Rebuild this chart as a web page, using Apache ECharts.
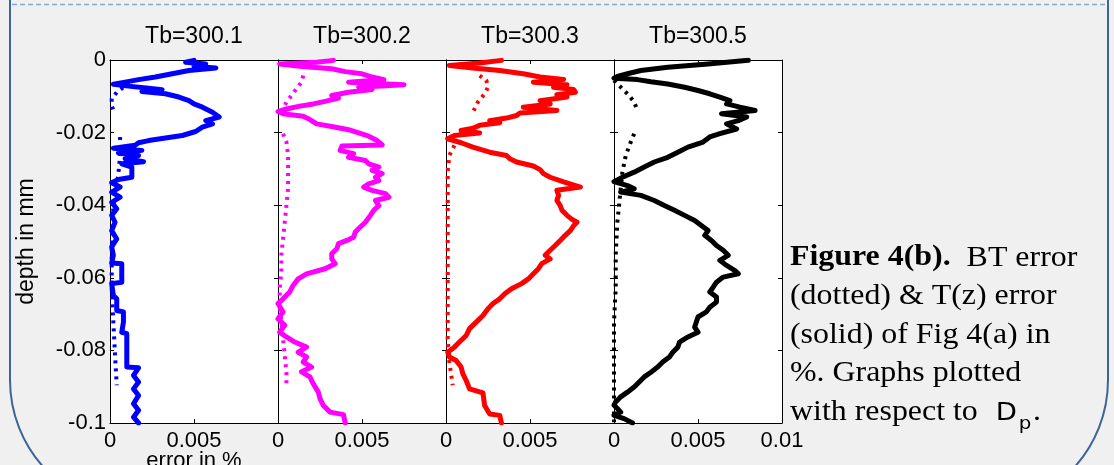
<!DOCTYPE html>
<html>
<head>
<meta charset="utf-8">
<script src="https://cdn.jsdelivr.net/npm/echarts@6/dist/echarts.min.js"></script>
<style>
  html, body { margin: 0; padding: 0; background: #f0f0f0; }
  #chart { width: 1114px; height: 465px; }
</style>
</head>
<body>
<div id="chart"></div>
<script>
// Panel titles (bulk temperature Tb)
const panelTitles = ['Tb=300.1', 'Tb=300.2', 'Tb=300.3', 'Tb=300.5'];
const panelColors = ['#0000ff', '#ff00ff', '#ff0000', '#000000'];

// Axis ranges / ticks
const errorTicks = [0, 0.005, 0.01];
const depthTicks = [0, -0.02, -0.04, -0.06, -0.08, -0.1];

// T(z) error (solid), pairs of [error %, depth mm]
const tzErr3001 = [[0.0050,-0.0001],[0.0045,-0.0006],[0.0057,-0.0011],[0.0050,-0.0017],[0.0063,-0.0022],[0.0047,-0.0029],[0.0037,-0.0038],[0.0027,-0.0047],[0.0017,-0.0054],[0.0009,-0.0061],[0.0002,-0.0067],[0.0011,-0.0072],[0.0023,-0.0078],[0.0031,-0.0082],[0.0019,-0.0087],[0.0033,-0.0093],[0.0041,-0.0102],[0.0047,-0.0112],[0.0050,-0.0121],[0.0055,-0.0130],[0.0061,-0.0144],[0.0065,-0.0157],[0.0057,-0.0167],[0.0061,-0.0176],[0.0055,-0.0185],[0.0051,-0.0197],[0.0043,-0.0208],[0.0033,-0.0215],[0.0023,-0.0222],[0.0017,-0.0228],[0.0015,-0.0235],[0.0002,-0.0243],[0.0019,-0.0249],[0.0005,-0.0256],[0.0017,-0.0263],[0.0009,-0.0272],[0.0020,-0.0280],[0.0007,-0.0286],[0.0013,-0.0295],[0.0013,-0.0323],[0.0005,-0.0329],[0.0001,-0.0338],[0.0006,-0.0350],[0.0001,-0.0364],[0.0006,-0.0378],[0.0001,-0.0392],[0.0004,-0.0410],[0.0001,-0.0428],[0.0003,-0.0447],[0.0001,-0.0470],[0.0004,-0.0493],[0.0001,-0.0515],[0.0002,-0.0538],[0.0001,-0.0559],[0.0007,-0.0561],[0.0007,-0.0612],[0.0001,-0.0616],[0.0002,-0.0649],[0.0004,-0.0658],[0.0004,-0.0690],[0.0008,-0.0694],[0.0008,-0.0722],[0.0007,-0.0750],[0.0010,-0.0754],[0.0010,-0.0846],[0.0017,-0.0848],[0.0014,-0.0869],[0.0017,-0.0887],[0.0014,-0.0906],[0.0017,-0.0924],[0.0014,-0.0947],[0.0017,-0.0965],[0.0014,-0.0984],[0.0017,-0.1000]];
const tzErr3002 = [[0.0033,-0.0001],[0.0023,-0.0006],[0.0001,-0.0011],[0.0013,-0.0017],[0.0032,-0.0024],[0.0040,-0.0032],[0.0050,-0.0038],[0.0056,-0.0047],[0.0063,-0.0054],[0.0042,-0.0061],[0.0075,-0.0068],[0.0048,-0.0075],[0.0056,-0.0081],[0.0042,-0.0089],[0.0032,-0.0098],[0.0036,-0.0105],[0.0028,-0.0114],[0.0021,-0.0121],[0.0013,-0.0127],[0.0005,-0.0135],[0.0000,-0.0142],[0.0003,-0.0148],[0.0015,-0.0155],[0.0019,-0.0164],[0.0023,-0.0176],[0.0032,-0.0183],[0.0042,-0.0192],[0.0048,-0.0201],[0.0054,-0.0210],[0.0059,-0.0222],[0.0062,-0.0234],[0.0038,-0.0237],[0.0037,-0.0249],[0.0045,-0.0258],[0.0042,-0.0268],[0.0052,-0.0277],[0.0054,-0.0286],[0.0060,-0.0295],[0.0056,-0.0304],[0.0062,-0.0313],[0.0058,-0.0323],[0.0060,-0.0332],[0.0054,-0.0341],[0.0051,-0.0350],[0.0056,-0.0359],[0.0064,-0.0368],[0.0066,-0.0378],[0.0058,-0.0387],[0.0060,-0.0401],[0.0057,-0.0414],[0.0055,-0.0428],[0.0052,-0.0447],[0.0049,-0.0460],[0.0046,-0.0474],[0.0045,-0.0488],[0.0041,-0.0497],[0.0036,-0.0506],[0.0035,-0.0520],[0.0032,-0.0534],[0.0032,-0.0548],[0.0034,-0.0561],[0.0028,-0.0575],[0.0017,-0.0589],[0.0012,-0.0603],[0.0009,-0.0621],[0.0007,-0.0639],[0.0003,-0.0658],[0.0000,-0.0671],[0.0003,-0.0694],[0.0000,-0.0713],[0.0004,-0.0731],[0.0001,-0.0750],[0.0005,-0.0763],[0.0010,-0.0777],[0.0017,-0.0791],[0.0012,-0.0805],[0.0017,-0.0818],[0.0015,-0.0832],[0.0020,-0.0846],[0.0014,-0.0859],[0.0019,-0.0873],[0.0021,-0.0892],[0.0024,-0.0915],[0.0025,-0.0933],[0.0027,-0.0952],[0.0031,-0.0970],[0.0039,-0.0977],[0.0040,-0.1000]];
const tzErr3003 = [[0.0033,-0.0001],[0.0020,-0.0008],[0.0002,-0.0015],[0.0016,-0.0022],[0.0032,-0.0029],[0.0046,-0.0038],[0.0056,-0.0047],[0.0070,-0.0054],[0.0052,-0.0061],[0.0072,-0.0068],[0.0064,-0.0075],[0.0076,-0.0081],[0.0077,-0.0089],[0.0066,-0.0096],[0.0072,-0.0102],[0.0056,-0.0112],[0.0062,-0.0121],[0.0046,-0.0130],[0.0066,-0.0139],[0.0044,-0.0146],[0.0042,-0.0153],[0.0036,-0.0160],[0.0026,-0.0167],[0.0032,-0.0173],[0.0020,-0.0180],[0.0016,-0.0188],[0.0009,-0.0194],[0.0020,-0.0201],[0.0005,-0.0208],[0.0001,-0.0217],[0.0009,-0.0228],[0.0016,-0.0240],[0.0026,-0.0254],[0.0036,-0.0263],[0.0038,-0.0272],[0.0042,-0.0281],[0.0052,-0.0292],[0.0056,-0.0302],[0.0058,-0.0313],[0.0062,-0.0323],[0.0070,-0.0336],[0.0080,-0.0350],[0.0066,-0.0359],[0.0067,-0.0373],[0.0066,-0.0387],[0.0068,-0.0401],[0.0069,-0.0414],[0.0072,-0.0428],[0.0075,-0.0439],[0.0078,-0.0447],[0.0076,-0.0456],[0.0074,-0.0470],[0.0071,-0.0483],[0.0068,-0.0497],[0.0065,-0.0511],[0.0062,-0.0524],[0.0059,-0.0538],[0.0062,-0.0548],[0.0057,-0.0561],[0.0055,-0.0575],[0.0052,-0.0589],[0.0049,-0.0603],[0.0045,-0.0616],[0.0039,-0.0630],[0.0035,-0.0644],[0.0032,-0.0658],[0.0028,-0.0671],[0.0025,-0.0685],[0.0022,-0.0704],[0.0018,-0.0722],[0.0014,-0.0740],[0.0012,-0.0759],[0.0008,-0.0777],[0.0005,-0.0791],[0.0001,-0.0805],[0.0002,-0.0818],[0.0006,-0.0828],[0.0009,-0.0846],[0.0010,-0.0864],[0.0012,-0.0883],[0.0014,-0.0906],[0.0022,-0.0917],[0.0023,-0.0952],[0.0026,-0.0975],[0.0032,-0.0979],[0.0033,-0.1000]];
const tzErr3005 = [[0.0080,-0.0001],[0.0056,-0.0011],[0.0032,-0.0020],[0.0016,-0.0029],[0.0008,-0.0038],[0.0002,-0.0045],[0.0000,-0.0050],[0.0014,-0.0054],[0.0022,-0.0060],[0.0032,-0.0066],[0.0042,-0.0075],[0.0050,-0.0084],[0.0057,-0.0093],[0.0063,-0.0102],[0.0069,-0.0112],[0.0067,-0.0121],[0.0075,-0.0130],[0.0084,-0.0139],[0.0064,-0.0148],[0.0079,-0.0157],[0.0074,-0.0167],[0.0067,-0.0176],[0.0073,-0.0190],[0.0063,-0.0203],[0.0057,-0.0212],[0.0053,-0.0226],[0.0044,-0.0240],[0.0038,-0.0254],[0.0032,-0.0268],[0.0024,-0.0281],[0.0018,-0.0295],[0.0012,-0.0309],[0.0005,-0.0323],[0.0000,-0.0335],[0.0008,-0.0346],[0.0012,-0.0355],[0.0004,-0.0364],[0.0016,-0.0373],[0.0024,-0.0387],[0.0030,-0.0401],[0.0036,-0.0414],[0.0042,-0.0428],[0.0048,-0.0442],[0.0052,-0.0456],[0.0056,-0.0470],[0.0054,-0.0483],[0.0058,-0.0497],[0.0061,-0.0511],[0.0065,-0.0524],[0.0068,-0.0538],[0.0063,-0.0552],[0.0067,-0.0566],[0.0072,-0.0580],[0.0074,-0.0589],[0.0065,-0.0598],[0.0061,-0.0612],[0.0059,-0.0626],[0.0057,-0.0639],[0.0061,-0.0653],[0.0061,-0.0667],[0.0057,-0.0681],[0.0055,-0.0694],[0.0050,-0.0708],[0.0049,-0.0722],[0.0048,-0.0736],[0.0050,-0.0750],[0.0044,-0.0763],[0.0039,-0.0777],[0.0038,-0.0791],[0.0035,-0.0805],[0.0033,-0.0818],[0.0029,-0.0832],[0.0026,-0.0846],[0.0022,-0.0860],[0.0018,-0.0873],[0.0015,-0.0887],[0.0012,-0.0901],[0.0008,-0.0915],[0.0004,-0.0928],[0.0001,-0.0942],[0.0000,-0.0951],[0.0002,-0.0960],[0.0004,-0.0970],[0.0000,-0.0979],[0.0006,-0.0988],[0.0011,-0.1000]];

// BT error (dotted), same layout; '-' breaks the curve
const btErr3001 = [[0.0012,-0.0066],[0.0008,-0.0075],[0.0004,-0.0089],[0.0001,-0.0107],[0.0001,-0.0125],[0.0002,-0.0139],['-','-'],[0.0006,-0.0212],[0.0006,-0.0263],[0.0005,-0.0313],[0.0002,-0.0401],[0.0001,-0.0538],[0.0001,-0.0630],[0.0002,-0.0722],[0.0003,-0.0814],[0.0004,-0.0896]];
const btErr3002 = [[0.0015,-0.0043],[0.0014,-0.0061],[0.0011,-0.0079],[0.0008,-0.0098],[0.0005,-0.0116],[0.0003,-0.0135],['-','-'],[0.0003,-0.0203],[0.0005,-0.0226],[0.0006,-0.0263],[0.0006,-0.0309],[0.0006,-0.0355],[0.0005,-0.0401],[0.0004,-0.0447],[0.0003,-0.0493],[0.0002,-0.0538],[0.0002,-0.0584],[0.0001,-0.0630],[0.0001,-0.0676],[0.0002,-0.0722],[0.0003,-0.0768],[0.0004,-0.0814],[0.0005,-0.0860],[0.0005,-0.0897]];
const btErr3003 = [[0.0020,-0.0043],[0.0024,-0.0056],[0.0025,-0.0075],[0.0023,-0.0093],[0.0019,-0.0116],[0.0016,-0.0144],['-','-'],[0.0005,-0.0235],[0.0002,-0.0263],[0.0001,-0.0309],[0.0001,-0.0401],[0.0001,-0.0493],[0.0001,-0.0584],[0.0001,-0.0676],[0.0001,-0.0768],[0.0002,-0.0832],[0.0004,-0.0896]];
const btErr3005 = [[0.0000,-0.0056],[0.0002,-0.0066],[0.0005,-0.0079],[0.0009,-0.0098],[0.0012,-0.0116],[0.0014,-0.0139],['-','-'],[0.0012,-0.0203],[0.0010,-0.0226],[0.0007,-0.0263],[0.0005,-0.0309],[0.0004,-0.0355],[0.0003,-0.0401],[0.0002,-0.0447],[0.0001,-0.0538],[0.0001,-0.0630],[0.0000,-0.0722],[0.0000,-0.0906],[0.0000,-0.0998]];

const tzSeries = [tzErr3001, tzErr3002, tzErr3003, tzErr3005];
const btSeries = [btErr3001, btErr3002, btErr3003, btErr3005];

const SANS = '"Liberation Sans", Arial, sans-serif';
const SERIF = '"Liberation Serif", "Times New Roman", serif';

// Four panels side by side
const panelLeft = 110, panelWidth = 168, panelTop = 60, panelHeight = 363;

const grids = [], xAxes = [], yAxes = [], series = [], titles = [];
const fmt = v => String(+v.toFixed(4));

panelTitles.forEach((t, i) => {
  const left = panelLeft + i * panelWidth;
  grids.push({
    left: left, top: panelTop, width: panelWidth, height: panelHeight,
    containLabel: false, outerBoundsMode: 'none',
    show: true, backgroundColor: '#ffffff', borderWidth: 0
  });
  titles.push({
    text: t, left: left + panelWidth / 2, top: 25, textAlign: 'center', padding: 0,
    textStyle: { fontFamily: SANS, fontSize: 23, fontWeight: 'normal', color: '#000' }
  });
  const lineCfg = { show: true, onZero: false, lineStyle: { color: '#000', width: 1 } };
  const tickCfg = { show: true, inside: true, length: 4, lineStyle: { color: '#000', width: 1 } };
  // bottom error axis
  xAxes.push({
    type: 'value', gridIndex: i, position: 'bottom',
    min: errorTicks[0], max: errorTicks[errorTicks.length - 1], interval: errorTicks[1] - errorTicks[0],
    axisLine: lineCfg, axisTick: tickCfg, splitLine: { show: false },
    axisLabel: {
      show: true, margin: 7, fontFamily: SANS, fontSize: 22, color: '#000',
      formatter: v => (i < 3 && Math.abs(v - 0.01) < 1e-9) ? '' : fmt(v)
    },
    name: i === 0 ? 'error in %' : '', nameLocation: 'middle', nameGap: 27, nameMoveOverlap: false,
    nameTextStyle: { fontFamily: SANS, fontSize: 22, color: '#000' }
  });
  // top border with ticks
  xAxes.push({
    type: 'value', gridIndex: i, position: 'top',
    min: errorTicks[0], max: errorTicks[errorTicks.length - 1], interval: errorTicks[1] - errorTicks[0],
    axisLine: lineCfg, axisTick: tickCfg, axisLabel: { show: false }, splitLine: { show: false }
  });
  // left depth axis
  yAxes.push({
    type: 'value', gridIndex: i, position: 'left',
    min: depthTicks[depthTicks.length - 1], max: depthTicks[0], interval: depthTicks[0] - depthTicks[1],
    axisLine: lineCfg, axisTick: tickCfg, splitLine: { show: false },
    axisLabel: { show: i === 0, margin: 4, fontFamily: SANS, fontSize: 22, color: '#000', formatter: fmt },
    name: i === 0 ? 'depth in mm' : '', nameLocation: 'middle', nameGap: 72, nameRotate: 90, nameMoveOverlap: false,
    nameTextStyle: { fontFamily: SANS, fontSize: 23, color: '#000' }
  });
  // right border with ticks
  yAxes.push({
    type: 'value', gridIndex: i, position: 'right',
    min: depthTicks[depthTicks.length - 1], max: depthTicks[0], interval: depthTicks[0] - depthTicks[1],
    axisLine: lineCfg, axisTick: tickCfg, axisLabel: { show: false }, splitLine: { show: false }
  });
  // BT error, dotted
  series.push({
    type: 'line', xAxisIndex: 2 * i, yAxisIndex: 2 * i, data: btSeries[i],
    showSymbol: false, connectNulls: false, silent: true, animation: false,
    lineStyle: { color: panelColors[i], width: 4, type: [3, 5], cap: 'butt' }, z: 2
  });
  // T(z) error, solid
  series.push({
    type: 'line', xAxisIndex: 2 * i, yAxisIndex: 2 * i, data: tzSeries[i],
    showSymbol: false, silent: true, animation: false,
    lineStyle: { color: panelColors[i], width: 5, join: 'round', cap: 'round' }, z: 3
  });
});

// Caption beside the panels
const capFont = 29, capLine = 38.5, capBase = 268;
const capLines = [
  '{b|Figure 4(b).}  BT error',
  '(dotted) & T(z) error',
  '(solid) of Fig 4(a) in',
  '%. Graphs plotted',
  'with respect to'
];
const capChildren = capLines.map((txt, k) => ({
  type: 'text', x: 0, y: capBase + k * capLine - 10,
  style: {
    text: txt, fill: '#000', font: capFont + 'px ' + SERIF, verticalAlign: 'middle',
    rich: { b: { fontFamily: SERIF, fontSize: capFont, fontWeight: 'bold', fill: '#000' } }
  }
}));
const lastBase = capBase + 4 * capLine;
capChildren.push(
  { type: 'text', x: 187, y: lastBase - 8.5, style: { text: 'D', fill: '#000', font: '25px "DejaVu Sans", sans-serif', verticalAlign: 'middle' } },
  { type: 'text', x: 208, y: lastBase + 2, style: { text: 'p', fill: '#000', font: '18px "DejaVu Sans", sans-serif', verticalAlign: 'middle' } },
  { type: 'text', x: 221, y: lastBase - 10, style: { text: '.', fill: '#000', font: capFont + 'px ' + SERIF, verticalAlign: 'middle' } }
);

const chart = echarts.init(document.getElementById('chart'), null, { renderer: 'canvas' });
chart.setOption({
  backgroundColor: '#f0f0f0',
  animation: false,
  title: titles,
  grid: grids,
  xAxis: xAxes,
  yAxis: yAxes,
  series: series,
  graphic: [
    // slide frame
    { type: 'rect', z: -10, silent: true,
      shape: { x: 10, y: -200, width: 1098, height: 710, r: 130 },
      style: { fill: 'none', stroke: '#3d6698', lineWidth: 2 } },
    { type: 'line', z: -10, silent: true,
      shape: { x1: 12, y1: 4.5, x2: 1106, y2: 4.5 },
      style: { stroke: '#86a8d6', lineWidth: 1.5, lineDash: [5, 3] } },
    { type: 'group', x: 790, y: 0, scaleX: 1.1, children: capChildren }
  ]
});
</script>
</body>
</html>
